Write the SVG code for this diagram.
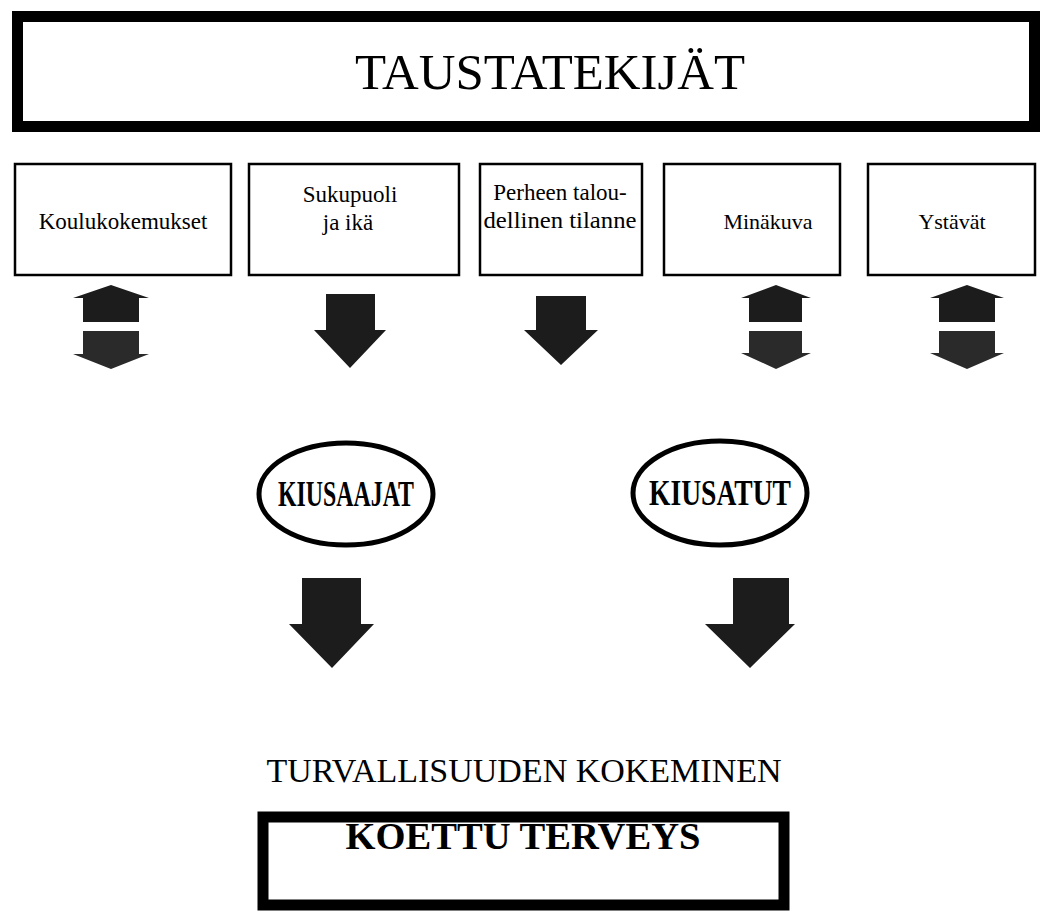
<svg xmlns="http://www.w3.org/2000/svg" width="1048" height="919" viewBox="0 0 1048 919">
<style>
.bg{fill:#fff}
.thick{fill:#fff;stroke:#000;stroke-width:11}
.box{fill:#fff;stroke:#000;stroke-width:2.5}
.oval{fill:#fff;stroke:#000;stroke-width:5}
.t{font-family:"Liberation Serif","Times New Roman",serif;fill:#000;text-anchor:middle}
.b{font-weight:bold}
.arr{fill:#1c1c1c}
.arr2{fill:#2a2a2a}
</style>
<rect class="bg" x="0" y="0" width="1048" height="919"/>
<g id="taustatekijat">
<rect class="thick" x="17.5" y="16.5" width="1017" height="110"/>
<text class="t" x="550" y="89" font-size="51" textLength="390" lengthAdjust="spacingAndGlyphs">TAUSTATEKIJÄT</text>
</g>
<g id="koulukokemukset">
<rect class="box" x="15" y="164" width="216" height="111"/>
<text class="t" x="123" y="229" font-size="23">Koulukokemukset</text>
</g>
<g id="sukupuoli">
<rect class="box" x="249" y="164" width="210" height="111"/>
<text class="t" x="350" y="202" font-size="23">Sukupuoli</text>
<text class="t" x="348" y="230" font-size="23">ja ikä</text>
</g>
<g id="perheen">
<rect class="box" x="480" y="164" width="162" height="111"/>
<text class="t" x="560" y="200" font-size="23">Perheen talou-</text>
<text class="t" x="560" y="228" font-size="23" textLength="153" lengthAdjust="spacingAndGlyphs">dellinen tilanne</text>
</g>
<g id="minakuva">
<rect class="box" x="664" y="164" width="176" height="111"/>
<text class="t" x="768" y="229" font-size="22">Minäkuva</text>
</g>
<g id="ystavat">
<rect class="box" x="868" y="164" width="167" height="111"/>
<text class="t" x="952" y="229" font-size="22">Ystävät</text>
</g>
<g id="kiusaajat">
<ellipse class="oval" cx="346" cy="494" rx="87" ry="51"/>
<text class="t b" x="346" y="506" font-size="35" textLength="136" lengthAdjust="spacingAndGlyphs">KIUSAAJAT</text>
</g>
<g id="kiusatut">
<ellipse class="oval" cx="720" cy="493" rx="87" ry="52"/>
<text class="t b" x="720" y="505" font-size="35" textLength="142" lengthAdjust="spacingAndGlyphs">KIUSATUT</text>
</g>
<g id="turvallisuus">
<text class="t" x="524" y="782" font-size="34">TURVALLISUUDEN KOKEMINEN</text>
</g>
<g id="koettu">
<rect class="thick" x="263" y="817" width="521" height="88"/>
<text class="t b" x="523" y="849" font-size="37" textLength="355" lengthAdjust="spacingAndGlyphs">KOETTU TERVEYS</text>
</g>
<g id="connectors">
<polygon class="arr" points="111,285 149,298 139,298 139,322 83,322 83,298 73,298"/>
<polygon class="arr2" points="83,331 139,331 139,354 149,354 111,369 73,354 83,354"/>
<polygon class="arr" points="326,294 375,294 375,330 386,330 350,368 314,330 326,330"/>
<polygon class="arr" points="536,296 586,296 586,330 598,330 561,365 524,330 536,330"/>
<polygon class="arr" points="776,285 811,298 802,298 802,322 749,322 749,298 741,298"/>
<polygon class="arr2" points="749,331 802,331 802,353 811,353 776,369 741,353 749,353"/>
<polygon class="arr" points="967,285 1004,298 995,298 995,322 939,322 939,298 930,298"/>
<polygon class="arr2" points="939,331 995,331 995,353 1004,353 967,369 930,353 939,353"/>
<polygon class="arr" points="302,578 361,578 361,624 374,624 332,668 289,624 302,624"/>
<polygon class="arr" points="733,578 789,578 789,624 795,624 750,668 705,624 733,624"/>
</g>
</svg>
